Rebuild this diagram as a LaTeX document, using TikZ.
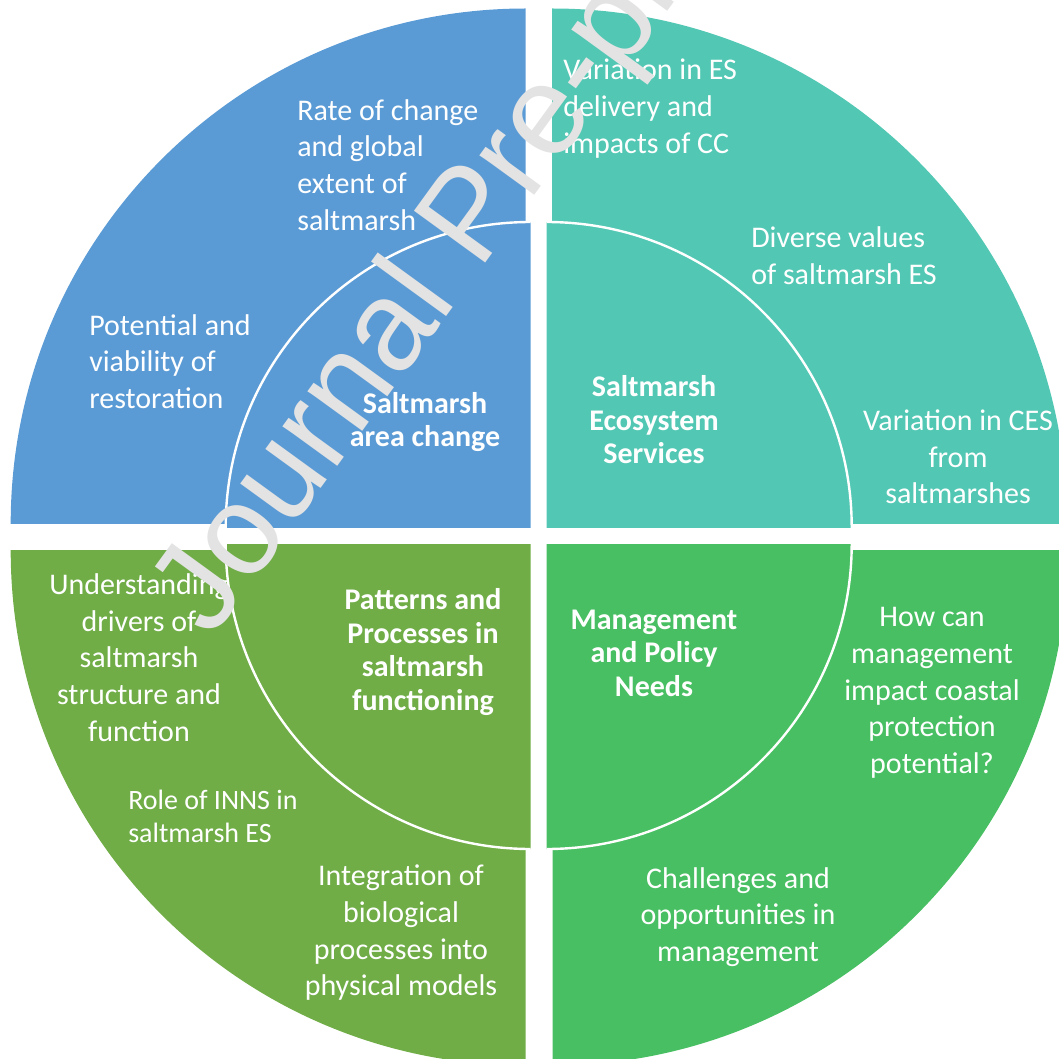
\documentclass[tikz,border=0pt]{standalone}
\usepackage{fontspec}
\setmainfont{Carlito}
\newfontfamily\wmfont{Liberation Sans}
\definecolor{qblue}{HTML}{5B9BD5}
\definecolor{qteal}{HTML}{52C8B4}
\definecolor{qgreenA}{HTML}{70AD47}
\definecolor{qgreenB}{HTML}{48BF62}
\definecolor{wmgray}{HTML}{E3E3E3}
\begin{document}
\begin{tikzpicture}[x=0.75pt,y=-0.75pt,
  outer/.style={text=white, inner sep=0pt, font=\fontsize{22.5}{27.5}\selectfont},
  innerlbl/.style={text=white, inner sep=0pt, align=center, font=\bfseries\fontsize{22.5}{25.1}\selectfont},
  ring/.style={white, line width=1.8pt},
  wm/.style={text=wmgray, rotate=54, anchor=base west, inner sep=0pt, font=\wmfont\fontsize{96}{100}\selectfont}]
\useasboundingbox (0,0) rectangle (1059,1059);
% outer quarter pieces
\begin{scope}\clip (0,0) rectangle (525.7,523.5);
  \fill[qblue] (525.7,523.5) circle[radius=515];\end{scope}
\begin{scope}\clip (552.2,0) rectangle (1059,523.5);
  \fill[qteal] (552.2,523.5) circle[radius=515];\end{scope}
\begin{scope}\clip (0,550.5) rectangle (525.7,1059);
  \fill[qgreenA] (525.7,550.5) circle[radius=515];\end{scope}
\begin{scope}\clip (552.5,550.5) rectangle (1059,1059);
  \fill[qgreenB] (552.5,550.5) circle[radius=515];\end{scope}
% inner quarter pieces
\begin{scope}\clip (0,0) rectangle (530.7,527);
  \fill[qblue] (530.7,527) circle[radius=305];
  \draw[ring] (530.7,527) circle[radius=305];\end{scope}
\begin{scope}\clip (546.7,0) rectangle (1059,527);
  \fill[qteal] (546.7,527) circle[radius=305];
  \draw[ring] (546.7,527) circle[radius=305];\end{scope}
\begin{scope}\clip (0,544) rectangle (530.7,1059);
  \fill[qgreenA] (530.7,544) circle[radius=305];
  \draw[ring] (530.7,544) circle[radius=305];\end{scope}
\begin{scope}\clip (546.7,544) rectangle (1059,1059);
  \fill[qgreenB] (546.7,544) circle[radius=305];
  \draw[ring] (546.7,544) circle[radius=305];\end{scope}
% inner labels
\node[innerlbl] (iTL) at (425,422) {Saltmarsh\\area change};
\node[innerlbl] (iTR) at (654,420) {Saltmarsh\\Ecosystem\\Services};
\node[innerlbl] (iBL) at (423,652) {Patterns and\\Processes in\\saltmarsh\\functioning};
\node[innerlbl] (iBR) at (654,653) {Management\\and Policy\\Needs};
% outer labels
\node[outer, align=left, anchor=west] (tl1) at (297,165) {Rate of change\\and global\\extent of\\saltmarsh};
\node[outer, align=left, anchor=west] (tl2) at (89,361.5) {Potential and\\viability of\\restoration};
\node[outer, align=left, anchor=west] (tr1) at (563,108.5) {Variation in ES\\delivery and\\impacts of CC};
\node[outer, align=left, anchor=west] (tr2) at (751,255.5) {Diverse values\\of saltmarsh ES};
\node[outer, align=center] (tr3) at (958,457) {Variation in CES\\from\\saltmarshes};
\node[outer, align=center] (bl1) at (139,657.5) {Understanding\\drivers of\\saltmarsh\\structure and\\function};
\node[outer, align=left, anchor=west, font=\fontsize{21}{24.75}\selectfont] (bl2) at (128,816.5) {Role of INNS in\\saltmarsh ES};
\node[outer, align=center] (bl3) at (401,933) {Integration of\\biological\\processes into\\physical models};
\node[outer, align=center] (br1) at (932,693) {How can\\management\\impact coastal\\protection\\potential?};
\node[outer, align=center] (br2) at (738,917) {Challenges and\\opportunities in\\management};
% watermark
\node[wm] (wmark) at (211.3,640.2) {Journal Pre-proof};
\end{tikzpicture}
\end{document}
